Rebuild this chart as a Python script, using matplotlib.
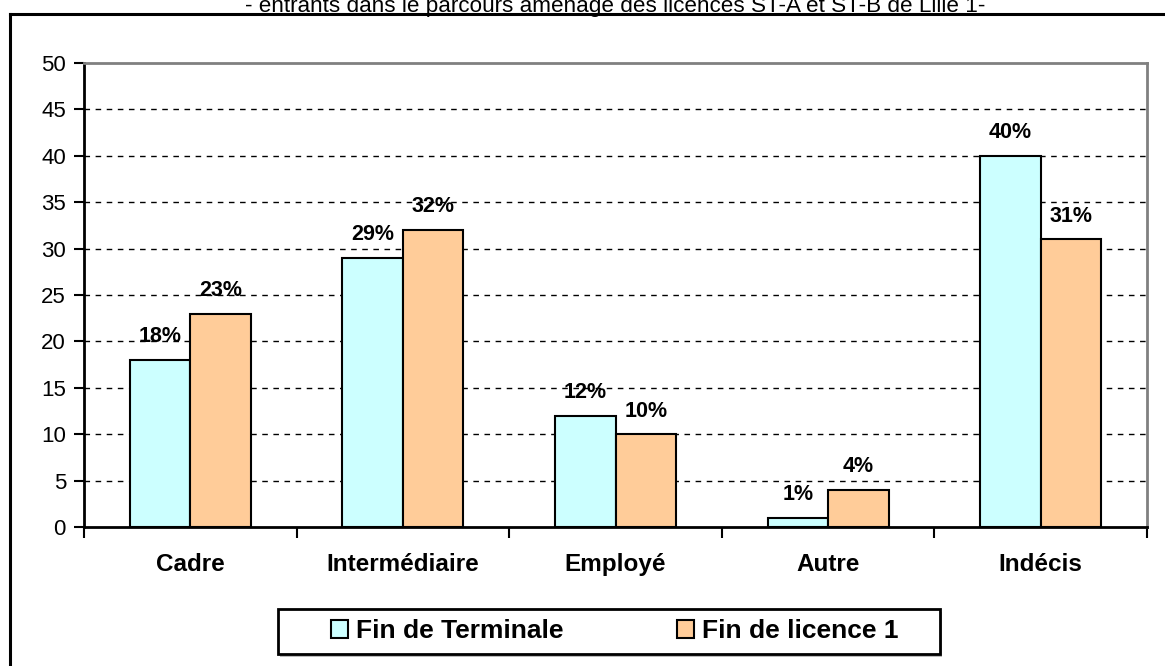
import matplotlib
matplotlib.use("Agg")
import matplotlib.pyplot as plt
from matplotlib.patches import Rectangle
import numpy as np

categories = ["Cadre", "Intermédiaire", "Employé", "Autre", "Indécis"]
terminale = [18, 29, 12, 1, 40]
licence1 = [23, 32, 10, 4, 31]
series_names = ["Fin de Terminale", "Fin de licence 1"]
yticks = [0, 5, 10, 15, 20, 25, 30, 35, 40, 45, 50]
title = "- entrants dans le parcours aménagé des licences ST-A et ST-B de Lille 1-"

plt.rcParams['font.family'] = ['Liberation Sans', 'DejaVu Sans']

W, H = 1165, 666
fig = plt.figure(figsize=(W/100, H/100), dpi=100)
# outer chart frame (left & top visible)
fig.add_artist(plt.Line2D([10/W, 10/W], [0, 1 - 14/H], color='black', lw=2.2, transform=fig.transFigure))
fig.add_artist(plt.Line2D([10/W, 1], [1 - 14/H, 1 - 14/H], color='black', lw=2.2, transform=fig.transFigure))
fig.text(615/W, 1 - 12/H, title, ha='center', va='baseline', fontsize=16.2)

ax = fig.add_axes([84/W, 1 - 527/H, (1147 - 84)/W, (527 - 63)/H])
x = np.arange(len(categories))
w = 0.285
b1 = ax.bar(x - w/2, terminale, w, color='#CCFFFF', edgecolor='black', lw=1.5, label=series_names[0], zorder=3)
b2 = ax.bar(x + w/2, licence1, w, color='#FFCC99', edgecolor='black', lw=1.5, label=series_names[1], zorder=3)
for bars, vals in ((b1, terminale), (b2, licence1)):
    for r, v in zip(bars, vals):
        ax.text(r.get_x() + r.get_width()/2, v + 1.9, f"{v}%", ha='center', va='baseline',
                fontsize=15.5, fontweight='bold', zorder=4)

ax.set_xlim(-0.5, len(categories) - 0.5)
ax.set_ylim(0, 50)
ax.set_yticks(yticks)
ax.tick_params(axis='y', direction='out', length=7, width=1.5, labelsize=16, pad=6)
ax.set_xticks(np.arange(len(categories) + 1) - 0.5, minor=True)
ax.set_xticks(x)
ax.set_xticklabels(categories, fontsize=17.5, fontweight='bold')
ax.tick_params(axis='x', which='major', length=0, pad=19)
ax.tick_params(axis='x', which='minor', direction='out', length=8, width=1.5)
for yv in yticks[1:-1]:
    ax.axhline(yv, color='black', lw=1.0, ls=(0, (4, 4)), zorder=1)
ax.spines['left'].set_linewidth(2)
ax.spines['bottom'].set_linewidth(2)
ax.spines['top'].set_color('#808080')
ax.spines['top'].set_linewidth(2)
ax.spines['right'].set_color('#808080')
ax.spines['right'].set_linewidth(2)

# legend frame (with faint shadow)
fig.add_artist(Rectangle((280/W, 1 - 657/H), (940 - 278)/W, (654 - 609)/H, transform=fig.transFigure,
                         facecolor='#BBBBBB', edgecolor='none', zorder=4))
fig.add_artist(Rectangle((278/W, 1 - 654/H), (940 - 278)/W, (654 - 609)/H, transform=fig.transFigure,
                         facecolor='white', edgecolor='black', lw=2, zorder=5))
handles, labels = ax.get_legend_handles_labels()
leg = fig.legend(handles, labels, loc='center left', bbox_to_anchor=(331/W, 1 - 631.5/H),
                 bbox_transform=fig.transFigure,
                 ncol=2, frameon=False, prop={'weight': 'bold', 'size': 19},
                 handlelength=0.65, handleheight=0.65, handletextpad=0.3, columnspacing=4.3,
                 borderpad=0, borderaxespad=0)
leg.set_zorder(6)
for h in leg.legend_handles:
    h.set_linewidth(1.5)

fig.savefig("out.png", dpi=100)
